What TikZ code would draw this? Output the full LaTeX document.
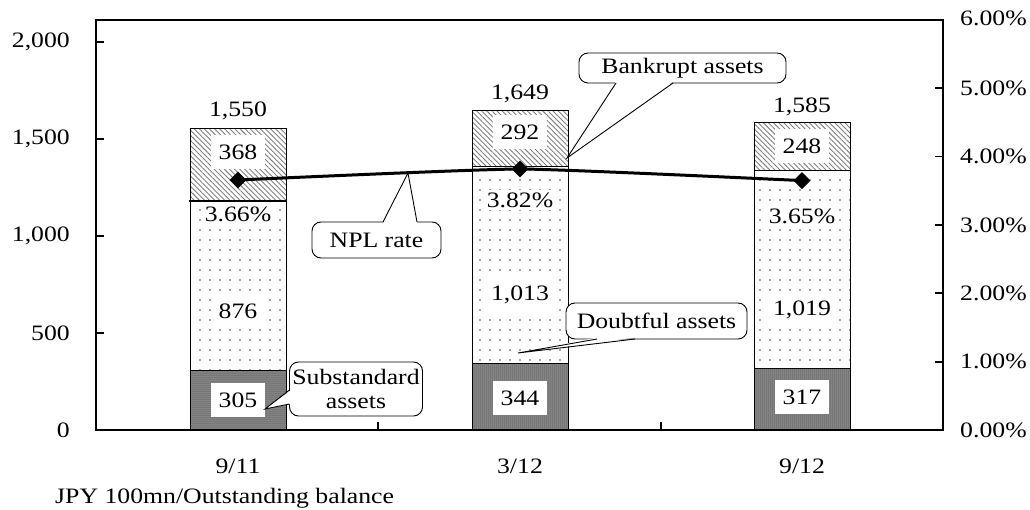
\documentclass[tikz,border=0pt]{standalone}
\usepackage{fontspec}
\setmainfont{Liberation Serif}[FakeStretch=1.17]
\usetikzlibrary{patterns,patterns.meta,shapes.geometric,calc}
\newcommand\fsz{\fontsize{22}{24}\selectfont}
\tikzset{
  bank/.style={draw=black, line width=0.8pt, pattern={Lines[angle=-45,distance=3.6pt,line width=0.9pt]}, pattern color=black!50},
  doubt/.style={draw=black, line width=0.8pt, pattern={Dots[radius=0.9pt,distance=10pt]}, pattern color=black!70},
  subst/.style={draw=black, line width=0.8pt, preaction={fill=black!45}, pattern={Dots[radius=0.5pt,distance=2pt]}, pattern color=black!85},
  val/.style={fill=white, font=\fsz, inner xsep=8pt, inner ysep=10pt},
  pct/.style={fill=white, font=\fsz, inner xsep=4pt, inner ysep=3pt},
  tot/.style={font=\fsz, inner sep=1pt},
  axlab/.style={font=\fsz, inner sep=0pt},
  axisline/.style={line width=1.6pt},
  cbox/.style={draw, line width=0.9pt, fill=white, rounded corners=9pt, font=\fsz, align=center, inner sep=0pt},
  wedgeline/.style={line width=0.9pt},
  nplline/.style={line width=3pt},
  mk/.style={diamond, fill=black, inner sep=0pt, minimum width=17pt, minimum height=17pt},
}
\begin{document}
\begin{tikzpicture}[x=1pt,y=-1pt]
\useasboundingbox (0,0) rectangle (1030,510);
% bars
\foreach \cx/\a/\b/\c in {238/370.8/200.9/128.5, 520/363.3/166.7/110.1, 802/368.5/170.8/122.5} {
  \path[subst] (\cx-48,430) rectangle (\cx+48,\a);
  \path[doubt] (\cx-48,\a) rectangle (\cx+48,\b);
  \path[bank] (\cx-48,\b) rectangle (\cx+48,\c);
}
\draw[line width=2pt] (189,200.9) -- (287,200.9);
% frame and ticks
\draw[axisline] (96,20) rectangle (943,430);
\foreach \y in {42,139,236,333} { \draw[axisline] (96,\y) -- (104,\y); }
\foreach \y in {88.3,156.7,225,293.3,361.7} { \draw[axisline] (943,\y) -- (935,\y); }
\foreach \x in {378,661} { \draw[axisline] (\x,430) -- (\x,422); }
% axis labels
\node[axlab, anchor=east] (yl0) at (70,430) {0};
\node[axlab, anchor=east] (yl1) at (70,333) {500};
\node[axlab, anchor=east] (yl2) at (70,236) {1,000};
\node[axlab, anchor=east] (yl3) at (70,139) {1,500};
\node[axlab, anchor=east] (yl4) at (70,42) {2,000};
\node[axlab, anchor=west] (yr0) at (960,430) {0.00\%};
\node[axlab, anchor=west] (yr1) at (960,361.7) {1.00\%};
\node[axlab, anchor=west] (yr2) at (960,293.3) {2.00\%};
\node[axlab, anchor=west] (yr3) at (960,225) {3.00\%};
\node[axlab, anchor=west] (yr4) at (960,156.7) {4.00\%};
\node[axlab, anchor=west] (yr5) at (960,88.3) {5.00\%};
\node[axlab, anchor=west] (yr6) at (960,18) {6.00\%};
\node[axlab] (c1) at (238,466) {9/11};
\node[axlab] (c2) at (520,466) {3/12};
\node[axlab] (c3) at (802,466) {9/12};
\node[axlab, anchor=west] (unit) at (55,498) {JPY 100mn/Outstanding balance};
% value labels
\node[tot] (t1) at (238,111) {1,550};
\node[val] (b1) at (238,152) {368};
\node[pct] (p1) at (238,214) {3.66\%};
\node[val] (d1) at (238,311) {876};
\node[val] (s1) at (238,400) {305};
\node[tot] (t2) at (520,94) {1,649};
\node[val] (b2) at (520,132) {292};
\node[pct] (p2) at (520,200) {3.82\%};
\node[val] (d2) at (520,295) {1,013};
\node[val] (s2) at (520,398) {344};
\node[tot] (t3) at (802,107) {1,585};
\node[val] (b3) at (802,146) {248};
\node[pct] (p3) at (802,216) {3.65\%};
\node[val] (d3) at (802,310) {1,019};
\node[val] (s3) at (802,397) {317};
% NPL line
\coordinate (r1) at (238,180);
\coordinate (r2) at (520,169);
\coordinate (r3) at (802,180.6);
\draw[nplline] plot[smooth, tension=0.25] coordinates {(r1) (r2) (r3)};
\node[mk] (m1) at (r1) {};
\node[mk] (m2) at (r2) {};
\node[mk] (m3) at (r3) {};
% callout: Bankrupt assets
\node[cbox, minimum width=207pt, minimum height=30pt] (bk) at (682.5,68) {Bankrupt assets};
\coordinate (bkt) at (567,158);
\coordinate (bk1) at (616,83);
\coordinate (bk2) at (673,83);
\fill[white] ($(bk1)+(0,-1.5)$) -- (bkt) -- ($(bk2)+(0,-1.5)$) -- cycle;
\draw[wedgeline] (bk1) -- (bkt) -- (bk2);
% callout: NPL rate
\node[cbox, minimum width=129pt, minimum height=36pt] (np) at (376.5,240) {NPL rate};
\coordinate (npt) at (408,173);
\coordinate (np1) at (383,222);
\coordinate (np2) at (417,222);
\fill[white] ($(np1)+(0,1.5)$) -- (npt) -- ($(np2)+(0,1.5)$) -- cycle;
\draw[wedgeline] (np1) -- (npt) -- (np2);
% callout: Substandard assets
\node[cbox, minimum width=133pt, minimum height=54pt] (sb) at (356,389) {Substandard\\assets};
\coordinate (sbt) at (265,409);
\coordinate (sb1) at (289.5,390);
\coordinate (sb2) at (289.5,404);
\fill[white] ($(sb1)+(1.5,0)$) -- (sbt) -- ($(sb2)+(1.5,0)$) -- cycle;
\draw[wedgeline] (sb1) -- (sbt) -- (sb2);
% callout: Doubtful assets
\node[cbox, minimum width=181pt, minimum height=36pt] (db) at (656.5,321) {Doubtful assets};
\coordinate (dbt) at (518,353);
\coordinate (db1) at (597,339);
\coordinate (db2) at (635,339);
\fill[white] ($(db1)+(0,-1.5)$) -- (dbt) -- ($(db2)+(0,-1.5)$) -- cycle;
\draw[wedgeline] (db1) -- (dbt) -- (db2);
\end{tikzpicture}
\end{document}
